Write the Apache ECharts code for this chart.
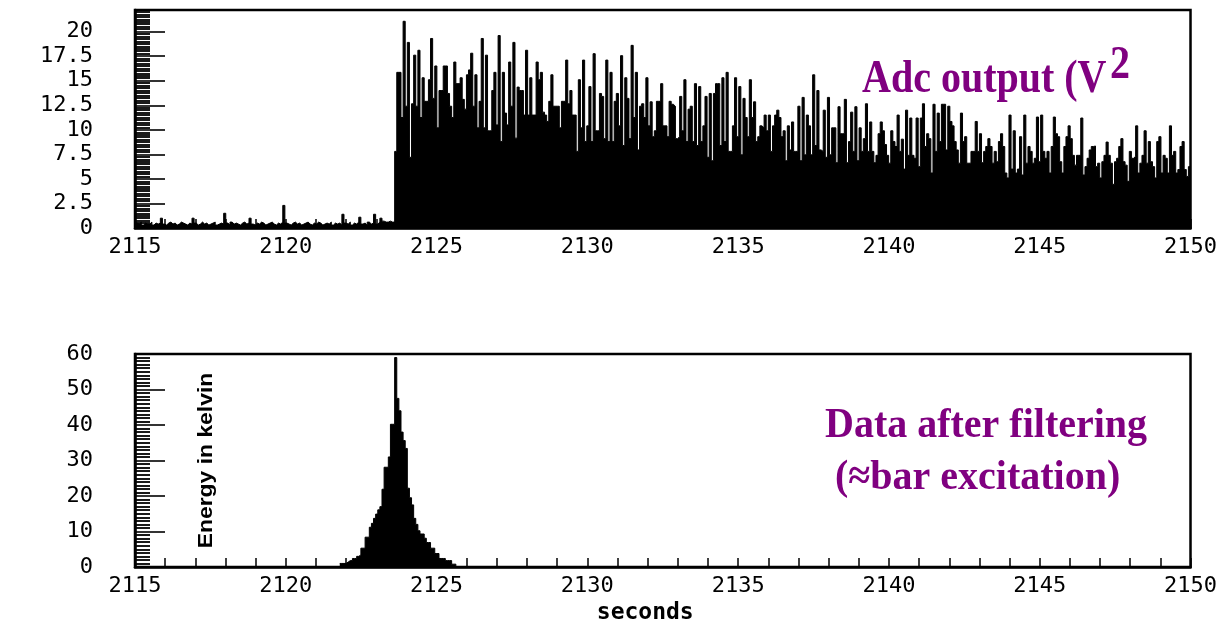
<!DOCTYPE html>
<html>
<head>
<meta charset="utf-8">
<script src="https://cdn.jsdelivr.net/npm/echarts@6/dist/echarts.min.js"></script>
<style>
  html, body { margin: 0; padding: 0; background: #fff; }
  #chart { width: 1220px; height: 626px; }
</style>
</head>
<body>
<div id="chart"></div>
<script>
// ---------------- data ----------------
const T0 = 2115;          // start time of first bin (s)
const BIN = 0.07;         // bin width (s)

// ADC output before the event (bins 0..122)
const adcPre = [
  0.5,0.4,0.6,0.3,0.5,0.4,0.4,0.6,0.3,0.5,0.4,0.5,1.0,0.4,0.3,0.5,0.6,0.4,0.5,0.3,0.4,0.6,0.5,0.4,0.3,0.5,0.4,1.0,0.5,0.3,
  0.4,0.6,0.4,0.5,0.3,0.4,0.5,0.6,0.3,0.4,0.5,0.4,1.5,0.5,0.3,0.6,0.4,0.5,0.4,0.3,0.5,0.6,0.4,0.5,1.0,0.4,0.3,0.5,0.4,0.6,
  0.5,0.3,0.4,0.5,0.6,0.4,0.3,0.5,0.4,0.6,2.3,0.5,0.4,0.3,0.5,0.6,0.4,0.5,0.3,0.4,0.5,0.6,0.4,0.3,0.5,0.4,0.6,0.5,0.3,0.4,
  0.5,0.4,0.6,0.3,0.5,0.4,0.5,0.3,1.4,0.5,0.4,0.6,0.3,0.5,0.4,0.6,1.1,0.4,0.5,0.3,0.6,0.4,0.5,1.4,0.4,0.6,1.0,0.7,0.6,0.6,
  0.7,0.6,0.6
];
// ADC output after the event (bins 123..499)
const adcPost = [
  7.8,15.85,15.85,11.25,21.05,12.4,18.9,7.2,12.65,17.6,
  12.4,18.1,11.25,15.3,12.9,12.9,15.1,19.3,13.2,16.5,
  10.2,14.0,14.0,16.5,16.5,13.7,12.4,11.25,16.9,14.7,
  14.7,15.3,13.1,12.1,15.6,16.1,17.8,12.4,15.6,10.2,
  12.9,19.3,10.2,17.6,9.9,9.9,14.0,15.85,10.5,19.6,
  8.8,15.85,11.7,10.5,16.9,12.4,18.9,9.15,14.35,14.0,
  14.0,11.5,18.1,11.5,15.3,11.5,11.5,16.9,15.1,15.85,
  11.8,11.5,10.85,12.9,15.6,12.4,

  12.4,12.4,10.2,12.9,12.9,17.1,12.65,14.0,11.5,11.5,
  7.8,15.1,10.2,17.1,8.8,10.4,14.4,8.8,17.75,9.9,
  9.9,13.7,13.4,9.1,17.1,8.8,15.85,8.8,12.9,13.7,
  10.4,17.55,8.4,15.3,13.2,9.1,18.6,11.25,15.85,7.95,
  12.4,12.65,11.25,15.3,10.4,12.85,9.3,9.9,12.9,12.9,
  14.7,10.4,10.4,9.3,12.9,12.6,12.4,9.1,9.3,13.4,
  9.9,15.1,8.8,12.1,12.4,8.8,14.7,8.4,14.4,8.8,
  10.4,13.4,7.2,13.7,6.85,13.7,

  14.7,14.7,8.4,15.3,8.8,15.85,7.8,7.8,10.4,15.3,
  9.3,14.4,7.45,13.2,11.25,9.3,15.1,11.25,12.85,8.8,
  9.3,10.4,10.2,11.5,9.9,11.5,7.8,10.4,11.5,12.0,
  11.25,9.3,9.9,6.85,10.4,7.95,10.8,7.8,7.8,12.4,
  6.85,13.3,7.45,11.5,10.4,7.45,15.6,8.4,14.0,7.95,
  7.8,12.0,7.2,13.3,7.45,10.2,10.2,6.65,12.35,9.6,
  9.6,13.1,6.65,8.8,11.8,7.8,12.35,6.85,10.2,7.8,
  9.1,12.65,7.8,10.8,7.8,

  6.65,7.4,9.6,10.8,9.9,8.5,7.4,6.6,9.9,8.8,
  8.3,11.5,7.8,9.05,6.0,12.0,7.4,11.2,7.4,7.1,
  11.2,6.25,11.2,12.65,8.3,9.6,9.1,5.6,12.6,7.8,
  11.7,8.8,12.6,12.6,7.95,12.4,10.85,10.4,8.8,7.95,
  6.6,11.7,8.8,9.3,6.6,6.6,7.8,7.8,10.85,7.8,
  9.6,6.65,7.8,8.3,9.1,8.3,6.6,7.8,6.75,8.8,
  9.6,8.3,5.6,5.1,11.5,6.0,9.9,5.6,6.0,9.3,
  5.4,11.5,6.6,8.3,7.8,

  6.6,7.1,11.3,6.75,11.5,7.8,7.1,7.8,5.6,8.3,
  11.3,9.6,9.3,6.75,5.6,8.3,9.3,10.4,9.1,7.4,
  6.4,7.4,7.4,11.2,5.4,6.25,7.1,7.95,8.3,8.35,
  6.25,6.6,5.1,6.75,7.4,8.75,7.4,6.6,4.45,6.75,
  7.1,8.3,9.1,6.75,6.4,4.75,7.8,7.1,7.3,10.4,
  5.6,6.6,7.4,9.9,6.6,8.8,6.75,6.25,5.1,8.8,
  9.3,5.6,7.4,7.1,5.6,10.4,7.4,7.8,5.6,5.95,
  8.3,8.8,5.95,5.25,6.25
];
const adcValues = adcPre.concat(adcPost);

// Filtered data (energy in kelvin), non-zero bins starting at bin 97
const filteredFirstBin = 97;
const filteredValues = [
  1.0,1.0,1.0,1.4,1.8,1.8,2.4,2.4,3.0,3.4,
  5.3,5.3,8.4,8.4,11.2,12.3,13.7,14.9,16.1,17.0,
  21.9,28.1,28.1,31.0,40.2,40.2,59.0,47.5,44.0,38.0,
  35.6,33.4,22.2,19.5,17.5,13.7,12.0,10.2,9.3,9.3,
  8.1,6.9,6.9,5.3,5.3,3.8,3.8,2.4,2.4,2.4,
  1.8,1.8,1.8,0.8,0.8
];

// tick labels
const xTickLabels = [2115, 2120, 2125, 2130, 2135, 2140, 2145, 2150];
const adcTickLabels = [0, 2.5, 5, 7.5, 10, 12.5, 15, 17.5, 20];
const energyTickLabels = [0, 10, 20, 30, 40, 50, 60];

// ---------------- histogram points (bin start, value), closed at last bin end ----------------
function histPoints(values, firstBin, closeValue) {
  const pts = values.map((v, i) => [T0 + (firstBin + i) * BIN, v]);
  pts.push([T0 + (firstBin + values.length) * BIN, closeValue === undefined ? values[values.length - 1] : closeValue]);
  return pts;
}
const adcData = histPoints(adcValues, 0);
const filteredData = histPoints(filteredValues, filteredFirstBin, 0);

const labelFont = { fontFamily: 'DejaVu Sans Mono', fontSize: 22, color: '#000' };

function xAxis(gridIndex, extra) {
  return Object.assign({
    gridIndex, type: 'value', min: 2115, max: 2150, interval: 5,
    axisLine: { show: true, onZero: false, lineStyle: { color: '#000', width: 2.5 } },
    axisTick: { show: true, inside: true, length: 9, lineStyle: { color: '#000', width: 1.5 } },
    minorTick: { show: true, splitNumber: 5, length: 9, lineStyle: { color: '#000', width: 1.5 } },
    splitLine: { show: false },
    axisLabel: Object.assign({ margin: 8,
      formatter: v => xTickLabels.includes(v) ? String(v) : '' }, labelFont)
  }, extra || {});
}

function yAxis(gridIndex, max, interval, labels) {
  return {
    gridIndex, type: 'value', min: 0, max, interval,
    axisLine: { show: true, lineStyle: { color: '#000', width: 2.5 } },
    axisTick: { show: true, inside: true, length: 30, lineStyle: { color: '#000', width: 1.6 } },
    minorTick: { show: true, splitNumber: 10, length: 15, lineStyle: { color: '#000', width: 1.8 } },
    splitLine: { show: false },
    axisLabel: Object.assign({ margin: 42, showMaxLabel: labels.includes(max),
      formatter: v => labels.includes(v) ? String(v) : '' }, labelFont)
  };
}

function histSeries(name, xi, data) {
  return {
    type: 'line', name, xAxisIndex: xi, yAxisIndex: xi, step: 'end',
    data, symbol: 'none', showSymbol: false, clip: true, z: 1,
    lineStyle: { color: '#000', width: 1 },
    areaStyle: { color: '#000', opacity: 1 }
  };
}

const chart = echarts.init(document.getElementById('chart'), null, { renderer: 'canvas' });
chart.setOption({
  animation: false,
  backgroundColor: '#fff',
  grid: [
    { left: 135, right: 25, top: 10, height: 218, show: true, borderColor: '#000', borderWidth: 2.5, backgroundColor: 'transparent' },
    { left: 135, right: 25, top: 354, height: 213, show: true, borderColor: '#000', borderWidth: 2.5, backgroundColor: 'transparent' }
  ],
  xAxis: [
    xAxis(0),
    xAxis(1, {
      name: 'seconds', nameLocation: 'middle', nameGap: 35,
      nameTextStyle: { fontFamily: 'DejaVu Sans Mono', fontWeight: 'bold', fontSize: 23, color: '#000', padding: [0, 35, 0, 0] }
    })
  ],
  yAxis: [
    yAxis(0, 22.2, 2.5, adcTickLabels),
    yAxis(1, 60, 10, energyTickLabels)
  ],
  series: [
    histSeries('Adc output', 0, adcData),
    histSeries('Filtered', 1, filteredData)
  ],
  graphic: [
    { type: 'text', x: 862, y: 80, scaleY: 1.15, z: 100,
      style: { text: 'Adc output (V', fill: '#800080', fontFamily: 'Liberation Serif', fontWeight: 'bold', fontSize: 40,
               align: 'left', verticalAlign: 'middle', textAlign: 'left', textVerticalAlign: 'middle' } },
    { type: 'text', x: 1110, y: 66, scaleY: 1.15, z: 100,
      style: { text: '2', fill: '#800080', fontFamily: 'Liberation Serif', fontWeight: 'bold', fontSize: 40,
               align: 'left', verticalAlign: 'middle', textAlign: 'left', textVerticalAlign: 'middle' } },
    { type: 'text', x: 825, y: 426, scaleY: 1.05, z: 100,
      style: { text: 'Data after filtering', fill: '#800080', fontFamily: 'Liberation Serif', fontWeight: 'bold', fontSize: 40,
               align: 'left', verticalAlign: 'middle', textAlign: 'left', textVerticalAlign: 'middle' } },
    { type: 'text', x: 835, y: 478.5, scaleY: 1.05, z: 100,
      style: { text: '(≈bar excitation)', fill: '#800080', fontFamily: 'Liberation Serif', fontWeight: 'bold', fontSize: 40,
               align: 'left', verticalAlign: 'middle', textAlign: 'left', textVerticalAlign: 'middle' } },
    { type: 'text', x: 206.5, y: 460.5, rotation: Math.PI / 2, scaleX: 1.09, z: 100,
      style: { text: 'Energy in kelvin', fill: '#000', fontFamily: 'Liberation Sans', fontWeight: 'bold', fontSize: 21,
               align: 'center', verticalAlign: 'middle', textAlign: 'center', textVerticalAlign: 'middle' } }
  ]
});
</script>
</body>
</html>
